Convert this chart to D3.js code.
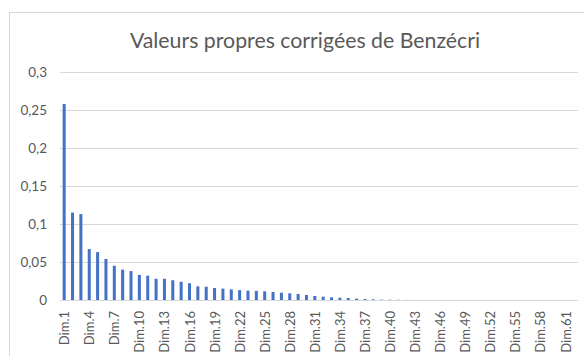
<!DOCTYPE html>
<html>
<head>
<meta charset="utf-8">
<script src="https://cdn.jsdelivr.net/npm/d3@7"></script>
<style>
  html, body { margin: 0; padding: 0; background: #fff; }
  svg { display: block; font-family: Lato, "Open Sans", sans-serif; }
</style>
</head>
<body>
<svg id="chart" width="584" height="356"></svg>
<script>
// Corrected eigenvalues (Benzécri) per dimension
const categories = d3.range(1, 63).map(i => "Dim." + i);
const values = [
  0.258, 0.115, 0.113, 0.067, 0.063, 0.054, 0.045, 0.040, 0.038, 0.033,
  0.032, 0.028, 0.028, 0.026, 0.024, 0.022, 0.018, 0.0175, 0.0158, 0.015,
  0.014, 0.013, 0.0123, 0.012, 0.0114, 0.0105, 0.0096, 0.0088, 0.0079, 0.0066,
  0.0053, 0.0044, 0.0035, 0.003, 0.0026, 0.0018, 0.0013, 0.0009, 0.0005, 0.0004,
  0.0003, 0.0002, 0.0001, 0.00005, 0, 0, 0, 0, 0, 0,
  0, 0, 0, 0, 0, 0, 0, 0, 0, 0,
  0, 0
];
const yTicks = [0, 0.05, 0.1, 0.15, 0.2, 0.25, 0.3];
const title = "Valeurs propres corrigées de Benzécri";

const svg = d3.select("#chart");
const plot = { left: 60, right: 578, top: 72, bottom: 300 };
const textColor = "#595959";
const gridColor = "#D9D9D9";
const barColor = "#4472C4";

// Chart frame
svg.append("rect")
  .attr("x", 9.5).attr("y", 12.5)
  .attr("width", 600).attr("height", 400)
  .attr("fill", "#fff").attr("stroke", gridColor).attr("stroke-width", 1);

const x = d3.scaleBand().domain(categories).range([plot.left, plot.right]).paddingInner(0.64).paddingOuter(0.32);
const y = d3.scaleLinear().domain([0, 0.3]).range([plot.bottom, plot.top]);

const fmt = v => d3.format("")(+v.toFixed(2)).replace(".", ",");

// Gridlines and y labels
const yAxis = d3.axisLeft(y).tickValues(yTicks).tickSize(-(plot.right - plot.left)).tickPadding(13).tickFormat(fmt);
const gy = svg.append("g").attr("transform", `translate(${plot.left},0)`).call(yAxis);
gy.select(".domain").remove();
gy.selectAll(".tick line").attr("stroke", gridColor).attr("stroke-width", 1).attr("shape-rendering", "crispEdges");
gy.selectAll(".tick text").attr("fill", textColor).style("font-size", "13.5px").style("font-family", "Lato, sans-serif");

// Bars
svg.append("g").selectAll("rect").data(values).join("rect")
  .attr("x", (d, i) => x(categories[i]))
  .attr("width", x.bandwidth())
  .attr("y", d => y(d))
  .attr("height", d => y(0) - y(d))
  .attr("fill", barColor);

// x labels every third dimension
const xAxis = d3.axisBottom(x).tickSize(0).tickPadding(0)
  .tickValues(categories.filter((c, i) => i % 3 === 0));
const gx = svg.append("g").attr("transform", `translate(0,${plot.bottom})`).call(xAxis);
gx.select(".domain").remove();
gx.selectAll(".tick text")
  .attr("fill", textColor)
  .style("font-size", "13px").style("font-family", "Lato, sans-serif")
  .attr("transform", "rotate(-90)")
  .attr("text-anchor", "end")
  .attr("x", -11).attr("y", 0.5).attr("dy", "0.35em");

// Title
svg.append("text")
  .attr("x", 305).attr("y", 48)
  .attr("text-anchor", "middle")
  .attr("fill", textColor)
  .style("font-size", "21.3px")
  .text(title);
</script>
</body>
</html>
